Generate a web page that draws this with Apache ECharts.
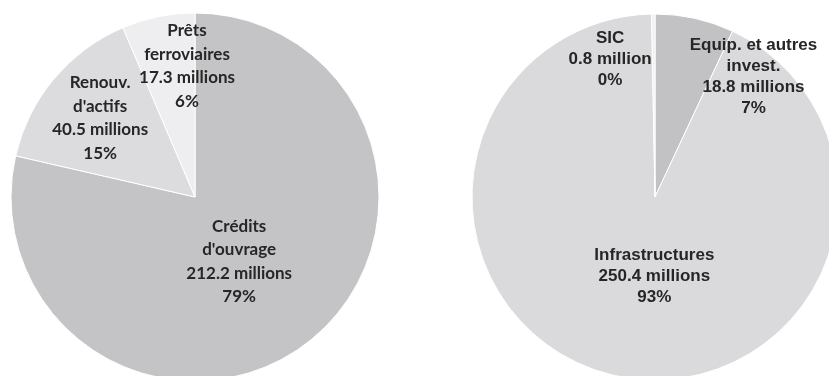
<!DOCTYPE html>
<html><head><meta charset="utf-8">
<script src="https://cdn.jsdelivr.net/npm/echarts@6/dist/echarts.min.js"></script>
<style>html,body{margin:0;padding:0;background:#fff}#c{width:829px;height:376px}</style>
</head><body><div id="c"></div>
<script>
var leftNames = ["Crédits\nd'ouvrage", "Renouv.\nd'actifs", "Prêts\nferroviaires"];
var leftValues = [212.2, 40.5, 17.3];
var leftUnits = ["millions", "millions", "millions"];
var leftPct = ["79%", "15%", "6%"];

var rightNames = ["Equip. et autres\ninvest.", "Infrastructures", "SIC"];
var rightValues = [18.8, 250.4, 0.8];
var rightUnits = ["millions", "millions", "million"];
var rightPct = ["7%", "93%", "0%"];

var leftColors = ['#c4c4c6', '#dcdcde', '#eeeef0'];
var rightColors = ['#c2c2c4', '#dadadc', '#f0f0f2'];
var leftOffsets = [[-15, -10], [-22, -18], [11, -38]];
var rightOffsets = [[78, -28], [19, -13], [-44, -43]];

function build(names, values, units, pct, colors, offsets, font, lh, size) {
  return names.map(function (n, i) {
    return {
      name: n,
      value: values[i],
      itemStyle: { color: colors[i] },
      label: {
        formatter: n + '\n' + values[i].toFixed(1) + ' ' + units[i] + '\n' + pct[i],
        offset: offsets[i],
        fontFamily: font,
        lineHeight: lh,
        fontSize: size
      }
    };
  });
}

var chart = echarts.init(document.getElementById('c'));
chart.setOption({
  animation: false,
  series: [
    {
      type: 'pie', center: [195, 197], radius: 184, startAngle: 90, clockwise: true,
      avoidLabelOverlap: false,
      labelLayout: { hideOverlap: false },
      itemStyle: { borderColor: '#fff', borderWidth: 1 },
      label: { show: true, position: 'inside', color: '#262626', fontWeight: 'bold', align: 'center' },
      labelLine: { show: false },
      emphasis: { disabled: true },
      data: build(leftNames, leftValues, leftUnits, leftPct, leftColors, leftOffsets, 'Lato', 23.5, 17)
    },
    {
      type: 'pie', center: [655, 197], radius: 183, startAngle: 90, clockwise: true,
      avoidLabelOverlap: false,
      labelLayout: { hideOverlap: false },
      itemStyle: { borderColor: '#fff', borderWidth: 1 },
      label: { show: true, position: 'inside', color: '#262626', fontWeight: 'bold', align: 'center' },
      labelLine: { show: false },
      emphasis: { disabled: true },
      data: build(rightNames, rightValues, rightUnits, rightPct, rightColors, rightOffsets, 'Liberation Sans', 21, 17)
    }
  ]
});
</script>
</body></html>
